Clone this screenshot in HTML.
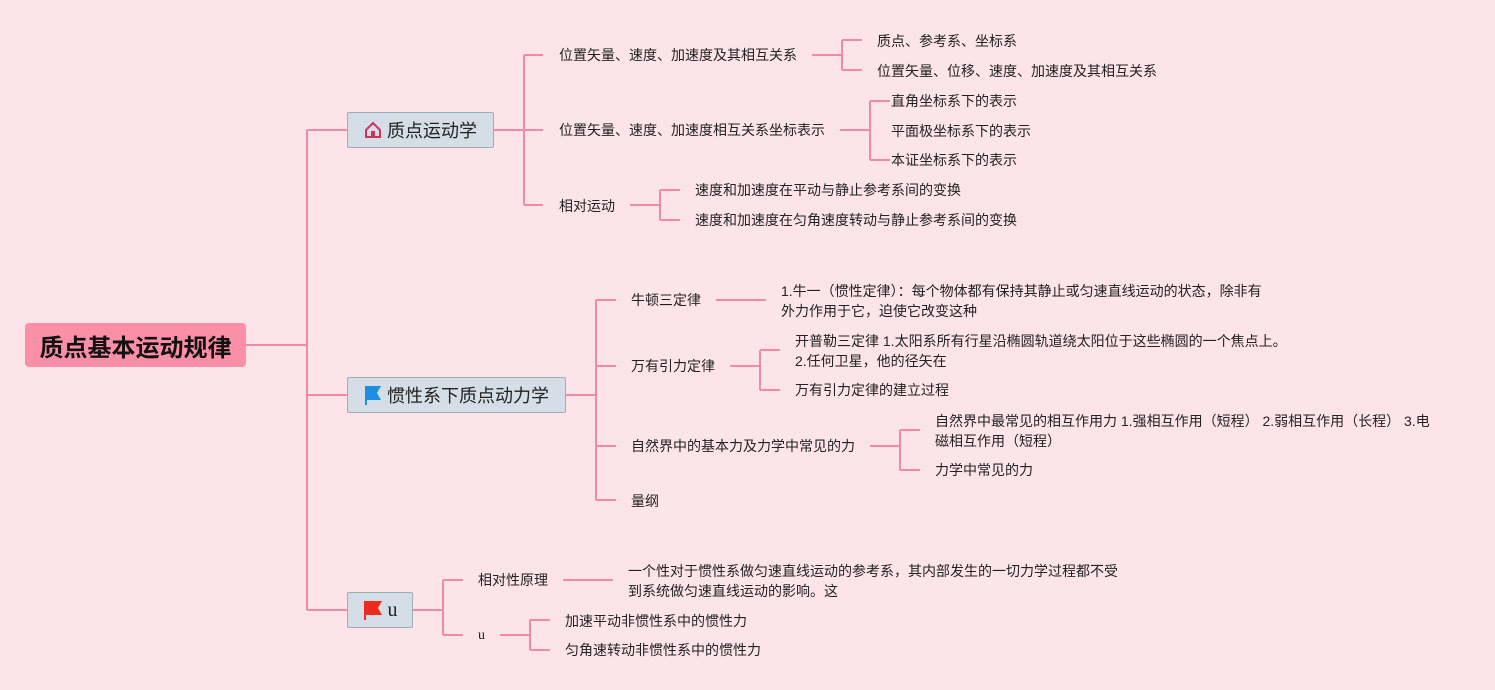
<!DOCTYPE html>
<html><head><meta charset="utf-8"><style>
body{margin:0;width:1495px;height:690px;background:#fde4ea;position:relative;overflow:hidden;font-family:"Liberation Sans","Noto Sans CJK SC",sans-serif;}
.t{position:absolute;font-size:14px;color:#222;white-space:nowrap;line-height:20px;transform:translateY(-10px);}
.b{position:absolute;background:#d5dde6;border:1px solid #9bb0b3;border-radius:2px;box-sizing:border-box;font-size:18px;color:#222;display:flex;align-items:center;justify-content:center;gap:5px;}
svg{position:absolute;left:0;top:0}
</style></head><body>
<svg width="1495" height="690"><g stroke="#f08aa8" stroke-width="2" fill="none">
<path d="M246 345H307M307 130V610M307 130H347M307 395H347M307 610H347"/>
<path d="M494 130H543M524 55V205M524 55H543M524 205H543"/>
<path d="M812 55H842M842 40V70M842 40H862M842 70H862"/>
<path d="M840 130H870M870 101V160M870 101H890M870 160H890"/>
<path d="M630 205H660M660 190V220M660 190H680M660 220H680"/>
<path d="M566 395H596M596 300V500M596 300H616M596 366H616M596 446H616M596 500H616"/>
<path d="M716 300H766"/>
<path d="M730 366H760M760 350V390M760 350H780M760 390H780"/>
<path d="M870 446H900M900 430V470M900 430H920M900 470H920"/>
<path d="M413 610H443M443 580V635M443 580H463M443 635H463"/>
<path d="M563 580H613"/>
<path d="M500 635H530M530 620V650M530 620H550M530 650H550"/>
</g></svg>
<div style="position:absolute;left:25px;top:323px;width:221px;height:44px;background:#fc8fa8;border-radius:4px;display:flex;align-items:center;justify-content:center;font-size:24px;font-weight:bold;color:#111">质点基本运动规律</div>
<div class="b" style="left:347px;top:112px;width:147px;height:36px"><svg style="position:static" width="18" height="18" viewBox="0 0 18 18"><path d="M2 9L9 2L16 9V16H2Z" fill="none" stroke="#d0335a" stroke-width="2"/><rect x="7" y="10" width="4" height="6" fill="#d0335a"/></svg>质点运动学</div>
<div class="b" style="left:347px;top:377px;width:219px;height:36px"><svg style="position:static" width="18" height="20" viewBox="0 0 18 20"><path d="M1 1H17L13 8L17 15H3V20H1Z" fill="#1e8fe0"/></svg>惯性系下质点动力学</div>
<div class="b" style="left:347px;top:592px;width:66px;height:36px;font-family:'Liberation Serif',serif;font-size:20px"><svg style="position:static" width="20" height="20" viewBox="0 0 20 20"><path d="M1 1H19L15 8L19 15H3V20H1Z" fill="#f02a1c"/></svg>u</div>
<div class="t" style="left:559px;top:55px">位置矢量、速度、加速度及其相互关系</div>
<div class="t" style="left:877px;top:41px">质点、参考系、坐标系</div>
<div class="t" style="left:877px;top:71px">位置矢量、位移、速度、加速度及其相互关系</div>
<div class="t" style="left:559px;top:130px">位置矢量、速度、加速度相互关系坐标表示</div>
<div class="t" style="left:891px;top:101px">直角坐标系下的表示</div>
<div class="t" style="left:891px;top:131px">平面极坐标系下的表示</div>
<div class="t" style="left:891px;top:160px">本证坐标系下的表示</div>
<div class="t" style="left:559px;top:206px">相对运动</div>
<div class="t" style="left:695px;top:190px">速度和加速度在平动与静止参考系间的变换</div>
<div class="t" style="left:695px;top:220px">速度和加速度在匀角速度转动与静止参考系间的变换</div>
<div class="t" style="left:631px;top:300px">牛顿三定律</div>
<div class="t" style="left:781px;top:291px">1.牛一（惯性定律）：每个物体都有保持其静止或匀速直线运动的状态，除非有</div>
<div class="t" style="left:781px;top:311px">外力作用于它，迫使它改变这种</div>
<div class="t" style="left:631px;top:366px">万有引力定律</div>
<div class="t" style="left:795px;top:341px">开普勒三定律 1.太阳系所有行星沿椭圆轨道绕太阳位于这些椭圆的一个焦点上。</div>
<div class="t" style="left:795px;top:361px">2.任何卫星，他的径矢在</div>
<div class="t" style="left:795px;top:390px">万有引力定律的建立过程</div>
<div class="t" style="left:631px;top:446px">自然界中的基本力及力学中常见的力</div>
<div class="t" style="left:935px;top:421px">自然界中最常见的相互作用力 1.强相互作用（短程） 2.弱相互作用（长程） 3.电</div>
<div class="t" style="left:935px;top:441px">磁相互作用（短程）</div>
<div class="t" style="left:935px;top:470px">力学中常见的力</div>
<div class="t" style="left:631px;top:501px">量纲</div>
<div class="t" style="left:478px;top:580px">相对性原理</div>
<div class="t" style="left:628px;top:571px">一个性对于惯性系做匀速直线运动的参考系，其内部发生的一切力学过程都不受</div>
<div class="t" style="left:628px;top:591px">到系统做匀速直线运动的影响。这</div>
<div class="t" style="left:478px;top:636px;font-family:'Liberation Serif',serif">u</div>
<div class="t" style="left:565px;top:621px">加速平动非惯性系中的惯性力</div>
<div class="t" style="left:565px;top:650px">匀角速转动非惯性系中的惯性力</div>
</body></html>
